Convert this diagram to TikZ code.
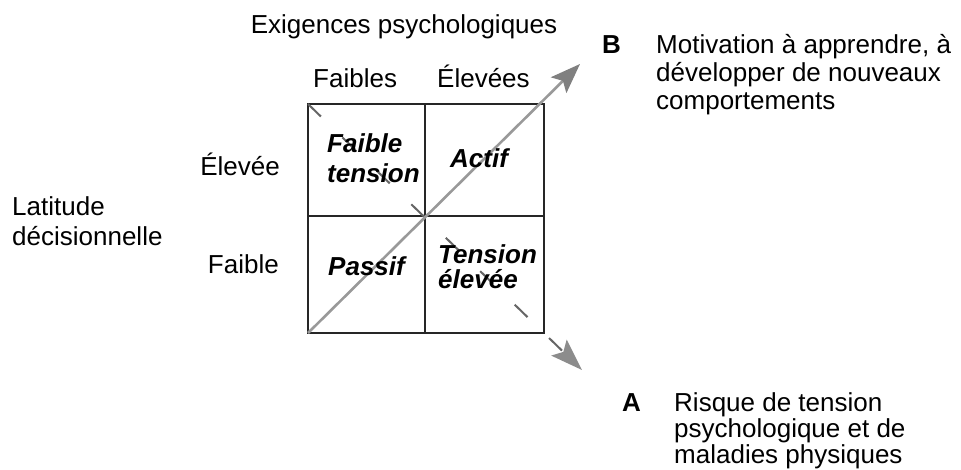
\documentclass[tikz,border=0pt]{standalone}
\usepackage{fontspec}
\setmainfont{Liberation Sans}
\usetikzlibrary{arrows.meta}
\begin{document}
\begin{tikzpicture}[x=1pt,y=-1pt,
  lbl/.style={inner sep=0pt, font=\fontsize{26}{28}\selectfont},
  cell/.style={inner sep=0pt, font=\fontsize{26}{28}\selectfont\bfseries\itshape},
  tag/.style={inner sep=0pt, font=\fontsize{26}{28}\selectfont\bfseries},
  gridline/.style={line width=1.4pt, black!85},
  arrowB/.style={line width=2.6pt, black!40, -{Stealth[length=30pt,width=22pt,inset=6pt,color=black!50]}},
  arrowA/.style={line width=2pt, black!60, dash pattern=on 18pt off 30pt, -{Stealth[length=32pt,width=22pt,inset=6pt,color=black!45]}}]
\useasboundingbox (0,0) rectangle (961,469);
% grid corners
\coordinate (TL) at (308,104);
\coordinate (TR) at (544,104);
\coordinate (BL) at (308,333);
\coordinate (BR) at (544,333);
\coordinate (TM) at (425,104);
\coordinate (BM) at (425,333);
\coordinate (ML) at (308,216);
\coordinate (MR) at (544,216);
\coordinate (Btip) at (580,64);
\coordinate (Atip) at (582,370);
% grid
\draw[gridline] (TL) rectangle (BR);
\draw[gridline] (TM) -- (BM);
\draw[gridline] (ML) -- (MR);
% arrows
\draw[arrowA] (TL) -- (Atip);
\draw[arrowB] (BL) -- (Btip);
% headings
\node[lbl, anchor=base] (exig) at (404,33) {Exigences psychologiques};
\node[lbl, anchor=base west] (faibles) at (313,87) {Faibles};
\node[lbl, anchor=base west] (elevees) at (437,87) {Élevées};
\node[lbl, anchor=base east] (elevee) at (280,175) {Élevée};
\node[lbl, anchor=base east] (faible) at (279,273) {Faible};
\node[lbl, anchor=base west] (lat1) at (12,215) {Latitude};
\node[lbl, anchor=base west] (lat2) at (12,245) {décisionnelle};
% cells
\node[cell, anchor=base west] (c1a) at (327,152) {Faible};
\node[cell, anchor=base west] (c1b) at (327,182) {tension};
\node[cell, anchor=base west] (c2) at (450,167) {Actif};
\node[cell, anchor=base west] (c3) at (328,275) {Passif};
\node[cell, anchor=base west] (c4a) at (438,263) {Tension};
\node[cell, anchor=base west] (c4b) at (438,288) {élevée};
% B text
\node[tag, anchor=base west] (B) at (602,53) {B};
\node[lbl, anchor=base west] (b1) at (656,53) {Motivation à apprendre, à};
\node[lbl, anchor=base west] (b2) at (656,81) {développer de nouveaux};
\node[lbl, anchor=base west] (b3) at (656,109) {comportements};
% A text
\node[tag, anchor=base west] (A) at (622,411) {A};
\node[lbl, anchor=base west] (a1) at (674,411) {Risque de tension};
\node[lbl, anchor=base west] (a2) at (674,437) {psychologique et de};
\node[lbl, anchor=base west] (a3) at (674,463) {maladies physiques};
\end{tikzpicture}
\end{document}
